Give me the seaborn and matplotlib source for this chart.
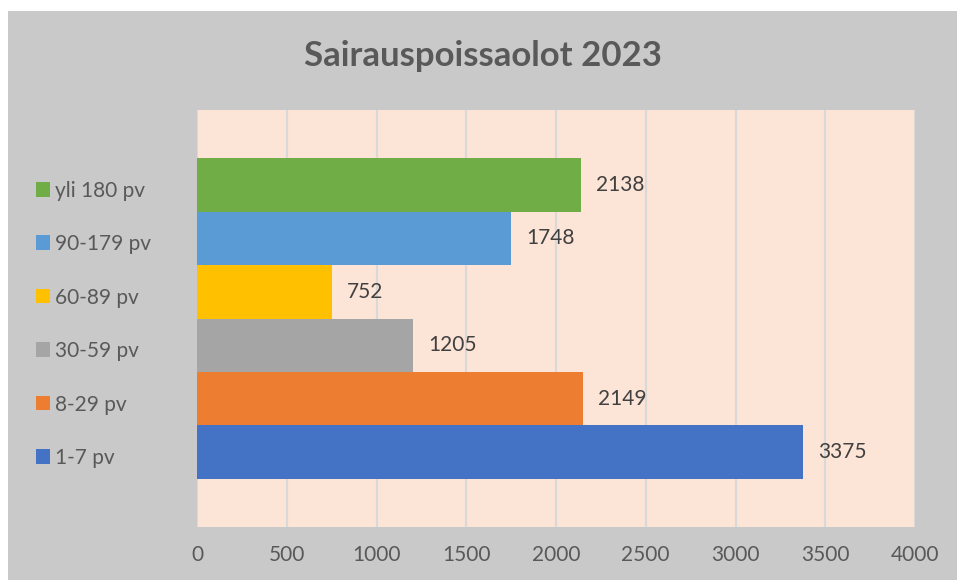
import matplotlib
matplotlib.use('Agg')
import matplotlib.pyplot as plt
import matplotlib.transforms as mtransforms
import seaborn as sns
import pandas as pd

# Sairauspoissaolot 2023 (ylhäältä alas)
luokat = ['yli 180 pv', '90-179 pv', '60-89 pv', '30-59 pv', '8-29 pv', '1-7 pv']
arvot = [2138, 1748, 752, 1205, 2149, 3375]
varit = ['#70ad47', '#5b9bd5', '#ffc000', '#a5a5a5', '#ed7d31', '#4472c4']
xtikit = [0, 500, 1000, 1500, 2000, 2500, 3000, 3500, 4000]

data = pd.DataFrame({'luokka': luokat, 'arvo': arvot})

sns.set_style('white')
plt.rcParams['font.family'] = ['Lato', 'DejaVu Sans']

fig = plt.figure(figsize=(9.57, 5.8), dpi=100, facecolor='white')
# harmaa taustalaatta (valkoinen reuna ylhäällä ja vasemmalla)
fig.patches.append(plt.Rectangle((8 / 957, 0), 1, 1 - 11 / 580, transform=fig.transFigure,
                                 facecolor='#c9c9c9', edgecolor='none', zorder=-10))

ax = fig.add_axes([197 / 957, 1 - 527 / 580, 718 / 957, 417 / 580])
ax.set_facecolor('#fce4d6')

sns.barplot(data=data, y='luokka', x='arvo', hue='luokka', palette=varit,
            orient='h', width=1.0, legend=False, ax=ax, saturation=1, linewidth=0)

for c in ax.containers:
    ax.bar_label(c, padding=11, fontsize=15, color='#404040')

ax.set_xlim(0, 4000)
ax.set_ylim(6.4, -1.4)
ax.set_xticks(xtikit)
ax.xaxis.grid(True, color='#d9d9d9', linewidth=1.5)
ax.set_axisbelow(True)
ax.tick_params(axis='x', length=0, pad=13, labelsize=15, labelcolor='#595959')
ax.tick_params(axis='y', length=0, pad=102, labelsize=15, labelcolor='#595959')
ax.set_xlabel('')
ax.set_ylabel('')
for s in ax.spines.values():
    s.set_visible(False)

# selitteen tekstit hieman palkkien keskikohdan alle, kuten alkuperäisessä
offset = mtransforms.ScaledTranslation(0, -3 / 72, fig.dpi_scale_trans)
for t in ax.get_yticklabels():
    t.set_horizontalalignment('left')
    t.set_transform(t.get_transform() + offset)

# selitteen värineliöt
trans = mtransforms.blended_transform_factory(ax.transAxes, ax.transData)
ymerkit = [i + 0.08 for i in range(len(luokat))]
ax.scatter([-0.2145] * len(luokat), ymerkit, marker='s', s=115,
           c=varit, transform=trans, clip_on=False, linewidths=0)

fig.suptitle('Sairauspoissaolot 2023', x=0.505, y=1 - 56 / 580, va='center',
             fontsize=25, fontweight='bold', color='#595959')

fig.savefig('out.png', dpi=100, facecolor=fig.get_facecolor())
